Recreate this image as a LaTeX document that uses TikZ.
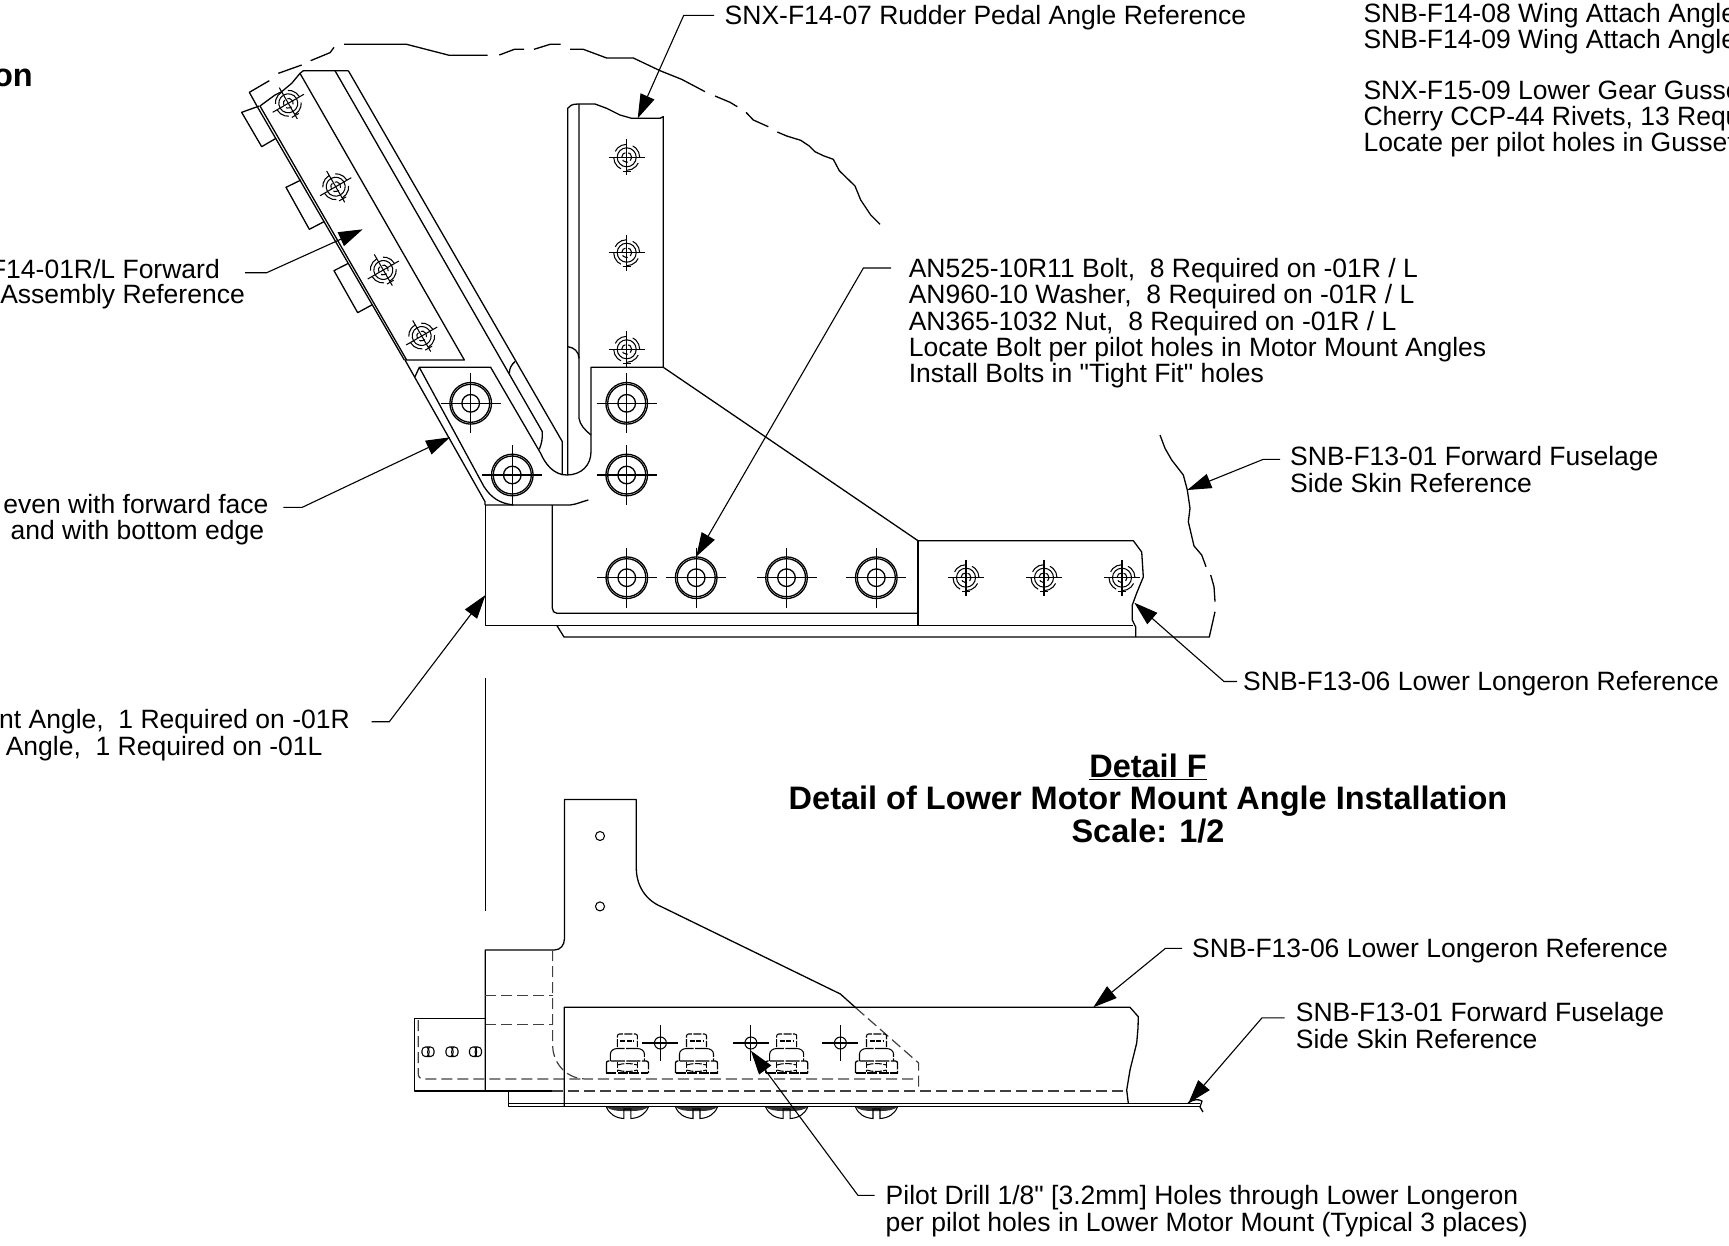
\documentclass[tikz,border=0pt]{standalone}
\usepackage{fontspec}
\newfontfamily\plainf{Liberation Sans}
\usetikzlibrary{arrows.meta}
\tikzset{
  part/.style={draw=black,line width=1.3pt,line join=round},
  thin part/.style={draw=black,line width=1.05pt},
  hid/.style={draw=black!75,line width=1.2pt,dash pattern=on 11pt off 5pt},
  lead/.style={draw=black,line width=1.1pt,-{Triangle[length=24pt,width=15pt]}},
  lab/.style={inner sep=0pt,anchor=base west,font=\plainf\fontsize{26.5}{27}\selectfont},
  labr/.style={inner sep=0pt,anchor=base east,font=\plainf\fontsize{26.5}{27}\selectfont},
  ttl/.style={inner sep=0pt,anchor=base,font=\plainf\fontsize{32.5}{34}\selectfont\bfseries}
}
% big bolt
\newcommand\bigbolt[2]{%
  \draw[part] (#1,#2) circle[radius=20.8pt];
  \draw[part] (#1,#2) circle[radius=19pt];
  \draw[part] (#1,#2) circle[radius=8.8pt];
  \draw[part] (#1-30,#2) -- (#1+30,#2);
  \draw[part] (#1,#2-30) -- (#1,#2+30);
}
% small rivet seen from above, with its rotation
\newcommand\smallriv[3]{%
  \begin{scope}[shift={(#1,#2)},rotate=#3]
    \draw[thin part] (-18,0) -- (18,0);
    \draw[thin part] (0,-18) -- (0,18);
    \draw[thin part] (0,0) circle[radius=9.5pt];
    \draw[thin part,dash pattern=on 6pt off 3pt] (0,0) circle[radius=5pt];
    \draw[thin part,dash pattern=on 14pt off 6.4pt] (0,0) circle[radius=13pt];
    \draw[thin part] (-4,14) -- (4,14);
  \end{scope}
}
% nut and rivet head of the lower view
\newcommand\nutriv[1]{%
  \begin{scope}[shift={(#1,0)}]
    \draw[thin part,dash pattern=on 8pt off 1.5pt,rounded corners=2pt] (-10,1047) -- (-10,1034) -- (10,1034) -- (10,1047);
    \draw[thin part,dash pattern=on 5pt off 1.5pt] (-7,1041) -- (7,1041);
    \draw[thin part,dash pattern=on 24pt off 1.5pt] (-17,1061) -- (-17,1054) .. controls (-17,1051) and (-14,1048.5) .. (-10,1048.5) -- (10,1048.5) .. controls (14,1048.5) and (17,1051) .. (17,1054) -- (17,1061);
    \draw[part,dash pattern=on 14pt off 1.5pt,rounded corners=2pt] (-21,1073) -- (-21,1061) -- (21,1061) -- (21,1073);
    \draw[part,dash pattern=on 10pt off 1.5pt] (-21,1073) -- (21,1073);
    \draw[thin part,dash pattern=on 6pt off 1.5pt] (-10,1062) -- (-10,1072) (10,1062) -- (10,1072);
    \draw[thin part,dash pattern=on 7pt off 1.5pt] (-10,1065) .. controls (-4,1063) and (4,1063) .. (10,1065);
    \draw[thin part,dash pattern=on 7pt off 1.5pt] (-10,1070) .. controls (-4,1072) and (4,1072) .. (10,1070);
    \fill[black!80] (-21,1107) -- (21,1107) .. controls (17,1110) and (12,1111) .. (3.5,1111) -- (-3.5,1111) .. controls (-12,1111) and (-17,1110) .. (-21,1107) -- cycle;
    \draw[thin part] (-21,1107) .. controls (-18,1114) and (-12,1118) .. (-3.5,1118.5) -- (-3.5,1109) -- (3.5,1109) -- (3.5,1118.5) .. controls (12,1118) and (18,1114) .. (21,1107);
  \end{scope}
}
% slot of the left-hand box
\newcommand\slothole[1]{%
  \draw[thin part,rounded corners=3.5pt] (#1-6,1047) rectangle (#1+6,1056.5);
  \draw[thin part] (#1-1,1047) .. controls (#1+2,1050) and (#1+2,1054) .. (#1-1,1056.5);
  \draw[thin part] (#1+1.5,1047) .. controls (#1-1,1050) and (#1-1,1054) .. (#1+1.5,1056.5);
}
\begin{document}
\begin{tikzpicture}[x=1pt,y=-1pt]
\useasboundingbox (0,0) rectangle (1729,1245);

% ---------- upper view, left and centre parts (coordinates of the 3x crop)
\begin{scope}[shift={(220,30)},x=0.33333pt,y=-0.33333pt]
  % broken outline at top
  \draw[part] (113,232) -- (88,187) -- (148,152);
  \draw[part] (175,130) -- (245,105);
  \draw[part] (272,92) -- (330,68) -- (342,52);
  \draw[part] (372,43) -- (560,43) -- (688,76) -- (803,76);
  \draw[part] (838,75) -- (883,58) -- (912,58);
  \draw[part] (942,58) -- (990,43) -- (1022,43);
  \draw[part] (1050,58) -- (1090,58) -- (1160,84) -- (1240,84) -- (1320,122) -- (1385,148) -- (1455,185);
  % ragged end and flange
  \draw[part] (120,228) -- (165,195) -- (185,185) -- (215,160) -- (240,130) -- (250,122) -- (385,122);
  \draw[part] (240,130) -- (733,990) -- (555,990);
  \draw[part] (120,228) -- (560,990);
  \draw[part] (113,232) -- (553,990);
  \draw[part] (345,122) -- (967,1205) .. controls (968,1225) and (965,1240) .. (958,1258);
  \draw[part] (385,122) -- (1027,1235) -- (1027,1335);
  \draw[part] (868,1030) .. controls (868,1015) and (875,1003) .. (885,995);
  % rectangles left of flange
  \draw[part] (118,228) -- (65,247) -- (125,350) -- (168,325);
  \draw[part] (243,450) -- (198,472) -- (268,598) -- (312,575);
  \draw[part] (385,700) -- (342,722) -- (413,848) -- (457,824);
  % motor mount angle, left leg
  \draw[part] (555,990) -- (795,1415) -- (795,1425);
  \draw[part] (585,1040) -- (598,1012) -- (812,1012) -- (962,1270) .. controls (975,1300) and (1000,1335) .. (1040,1335) .. controls (1085,1335) and (1113,1305) .. (1113,1265) -- (1113,1012) -- (1330,1012);
  \draw[part] (598,1012) -- (792,1370) .. controls (815,1405) and (840,1420) .. (880,1425);
  \draw[part] (795,1425) -- (1050,1425) .. controls (1070,1423) and (1085,1415) .. (1105,1410);
  % pedal angle
  \draw[part] (1043,1335) -- (1043,235) .. controls (1048,228) and (1055,222) .. (1075,222) -- (1125,222) -- (1160,235) -- (1200,255) -- (1235,265) -- (1320,265) -- (1330,260) -- (1330,1012);
  \draw[part] (1077,222) -- (1077,1165) .. controls (1080,1185) and (1095,1200) .. (1113,1215);
  \draw[part] (1043,950) .. controls (1062,952) and (1077,965) .. (1077,985);
\end{scope}

\draw[part] (715,96) -- (730,102.3) -- (737.3,106.7);
\draw[part] (746,112.3) -- (753.3,120) -- (768.3,126.7);
\draw[part] (777.3,132) -- (786.7,136) -- (800.7,140.3) -- (809.3,146) -- (815,151.7) -- (823.3,155.7) -- (833.3,159.3) -- (839.3,170.7) -- (855,186) -- (860.7,200) -- (870.7,215) -- (880,224.3);

% diagonal of the motor mount angle and lower parts
\draw[part] (663.3,367.3) -- (918,540.7);
\draw[part] (485.5,505) -- (485.5,625.7) -- (1133,625.7);
\draw[part] (552.3,505) -- (552.3,608) .. controls (552.3,611) and (554,613.3) .. (557,613.3) -- (918,613.3);
\draw[part] (918,540.7) -- (918,625.7);
\draw[part] (918,540.7) -- (1133.3,540.7) -- (1141.7,552) -- (1143.3,577) -- (1136.7,593) -- (1132.3,605) -- (1132.3,620) -- (1135.7,627) -- (1135.7,637);
\draw[part] (557,625.7) -- (564,637) -- (1209.3,637) -- (1215,611.7);
\draw[part] (1215,601.7) -- (1214,586.7) -- (1210.7,575);
\draw[part] (1206,566.7) -- (1201.7,555) -- (1194,546) -- (1188.3,521.7) -- (1190,508.3) -- (1187.3,490) -- (1183.3,475) -- (1171.7,460) -- (1165,448.3) -- (1160,435);

% fasteners, upper view
\bigbolt{470.7}{403.3}\bigbolt{512.3}{475}\bigbolt{626.7}{403.3}\bigbolt{626.7}{475}
\bigbolt{626.8}{577.7}\bigbolt{696.2}{577.7}\bigbolt{786.5}{577.7}\bigbolt{876.3}{577.7}
\smallriv{288.3}{103.3}{30}\smallriv{335.7}{186.7}{30}\smallriv{383.3}{270}{30}\smallriv{421.7}{336}{30}
\smallriv{626.7}{157.3}{0}\smallriv{626.7}{252.7}{0}\smallriv{626.7}{349.3}{0}
\smallriv{966}{577.7}{0}\smallriv{1044}{577.7}{0}\smallriv{1122}{577.7}{0}

% centre line between views
\draw[part] (485.7,678) -- (485.7,910.7);

% ---------- lower view
\draw[part] (485.3,1091) -- (485.3,950) -- (554.4,950) .. controls (560.5,950) and (564.4,945) .. (564.4,939) -- (564.4,799.5) -- (636.3,799.5) -- (636.3,868) .. controls (636.3,885) and (645,900) .. (662,907) -- (840.4,994) -- (856,1008);
\draw[hid] (856,1008) -- (918.6,1063) -- (918.6,1091);
\draw[hid] (552.6,950) -- (552.6,1046) .. controls (553,1060) and (563,1078) .. (585,1079) -- (918.6,1079);
\draw[hid] (418.2,1020) -- (418.2,1073) .. controls (418.2,1077) and (420,1079) .. (423,1079) -- (585,1079);
\draw[hid] (485.3,995.7) -- (552.6,995.7);
\draw[hid] (485.3,1024.3) -- (552.6,1024.3);
\draw[hid] (552,1091) -- (1126.7,1091);
\draw[part] (414.7,1018.3) rectangle (485.3,1091);
\draw[part] (485.3,1091) -- (552,1091);
\draw[part] (564.2,1106.5) -- (564.2,1007.3) -- (1130,1007.3) -- (1138.3,1016.7) -- (1138,1028) -- (1136.7,1043) -- (1130,1070) -- (1126.7,1090) -- (1128.3,1103.3);
\draw[part] (508.8,1091) -- (508.8,1106.7) -- (1200,1106.7);
\draw[part] (508.8,1103.3) -- (1200,1103.3);
\draw[part] (1188,1103) .. controls (1193,1099) and (1199,1099) .. (1202,1101) -- (1200,1107) -- (1203,1112);
\foreach \cx in {660.4,750.9,840.4}{
  \draw[thin part] (\cx,1043) circle[radius=6pt];
  \draw[thin part] (\cx-18,1043) -- (\cx+18,1043);
  \draw[thin part] (\cx,1025) -- (\cx,1061);
}
\nutriv{627.4}\nutriv{696.5}\nutriv{786.7}\nutriv{876.5}
\slothole{428}\slothole{452}\slothole{475.5}
\draw[thin part] (600,836) circle[radius=4.5pt];
\draw[thin part] (600,906.4) circle[radius=4.5pt];

% ---------- labels
\node[lab] (l1) at (724.5,24.5) {SNX-F14-07 Rudder Pedal Angle Reference};
\node[lab] (l2a) at (1363.3,22) {SNB-F14-08 Wing Attach Angle};
\node[lab] (l2b) at (1363.3,48.5) {SNB-F14-09 Wing Attach Angle};
\node[lab] (l3a) at (1363.3,99) {SNX-F15-09 Lower Gear Gusse};
\node[lab] (l3b) at (1363.3,125) {Cherry CCP-44 Rivets, 13 Requ};
\node[lab] (l3c) at (1363.3,151) {Locate per pilot holes in Gusset};
\node[inner sep=0pt,anchor=base east,font=\plainf\fontsize{32.5}{34}\selectfont\bfseries] (l4) at (33,86.5) {on};
\node[labr] (l5a) at (220,278.2) {F14-01R/L Forward};
\node[labr] (l5b) at (245,303.8) {Assembly Reference};
\node[labr] (l6a) at (268.7,513.3) {even with forward face};
\node[labr] (l6b) at (264.3,539) {and with bottom edge};
\node[labr] (l7a) at (350,728.3) {nt Angle,\ \ 1 Required on -01R};
\node[labr] (l7b) at (322.7,755) {Angle,\ \ 1 Required on -01L};
\node[lab] (l8a) at (908.6,277) {AN525-10R11 Bolt,\ \ 8 Required on -01R / L};
\node[lab] (l8b) at (908.6,303.4) {AN960-10 Washer,\ \ 8 Required on -01R / L};
\node[lab] (l8c) at (908.6,330.4) {AN365-1032 Nut,\ \ 8 Required on -01R / L};
\node[lab] (l8d) at (908.6,356.3) {Locate Bolt per pilot holes in Motor Mount Angles};
\node[lab] (l8e) at (908.6,382.8) {Install Bolts in "Tight Fit" holes};
\node[lab] (l9a) at (1290,465.5) {SNB-F13-01 Forward Fuselage};
\node[lab] (l9b) at (1290,492) {Side Skin Reference};
\node[lab] (l10) at (1243,690.5) {SNB-F13-06 Lower Longeron Reference};
\node[ttl] (t1) at (1148,777.5) {\underline{Detail F}};
\node[ttl] (t2) at (1148,809.8) {Detail of Lower Motor Mount Angle Installation};
\node[ttl] (t3) at (1148,842) {Scale: 1/2};
\node[lab] (l11) at (1192,957) {SNB-F13-06 Lower Longeron Reference};
\node[lab] (l12a) at (1295.7,1021) {SNB-F13-01 Forward Fuselage};
\node[lab] (l12b) at (1295.7,1048.8) {Side Skin Reference};
\node[lab] (l13a) at (885.5,1204.4) {Pilot Drill 1/8" [3.2mm] Holes through Lower Longeron};
\node[lab] (l13b) at (885.5,1231.3) {per pilot holes in Lower Motor Mount (Typical 3 places)};

% ---------- connectors
\coordinate (s1) at (714,15.4); \coordinate (b1) at (683.7,15.4); \coordinate (e1) at (637.7,118.3);
\draw[lead] (s1) -- (b1) -- (e1);
\coordinate (s5) at (245,272.7); \coordinate (b5) at (266.7,272.7); \coordinate (e5) at (362.7,229.3);
\draw[lead] (s5) -- (b5) -- (e5);
\coordinate (s6) at (283.3,507.3); \coordinate (b6) at (302.3,507.3); \coordinate (e6) at (450,437.3);
\draw[lead] (s6) -- (b6) -- (e6);
\coordinate (s7) at (371.7,721.7); \coordinate (b7) at (389.3,721.7); \coordinate (e7) at (485.5,595);
\draw[lead] (s7) -- (b7) -- (e7);
\coordinate (s8) at (891,268); \coordinate (b8) at (863.4,268); \coordinate (e8) at (696.2,556.7);
\draw[lead] (s8) -- (b8) -- (e8);
\coordinate (s9) at (1280,459.3); \coordinate (b9) at (1263.3,459.3); \coordinate (e9) at (1187.3,490);
\draw[lead] (s9) -- (b9) -- (e9);
\coordinate (s10) at (1237,681.5); \coordinate (b10) at (1224,681.5); \coordinate (e10) at (1134.3,602.7);
\draw[lead] (s10) -- (b10) -- (e10);
\coordinate (s11) at (1182,948.3); \coordinate (b11) at (1165.5,948.3); \coordinate (e11) at (1093.3,1007.3);
\draw[lead] (s11) -- (b11) -- (e11);
\coordinate (s12) at (1284.6,1017.8); \coordinate (b12) at (1262,1017.8); \coordinate (e12) at (1188.3,1103.3);
\draw[lead] (s12) -- (b12) -- (e12);
\coordinate (s13) at (874.5,1195.4); \coordinate (b13) at (858,1195.4); \coordinate (e13) at (750.9,1050.7);
\draw[lead] (s13) -- (b13) -- (e13);
\end{tikzpicture}
\end{document}
